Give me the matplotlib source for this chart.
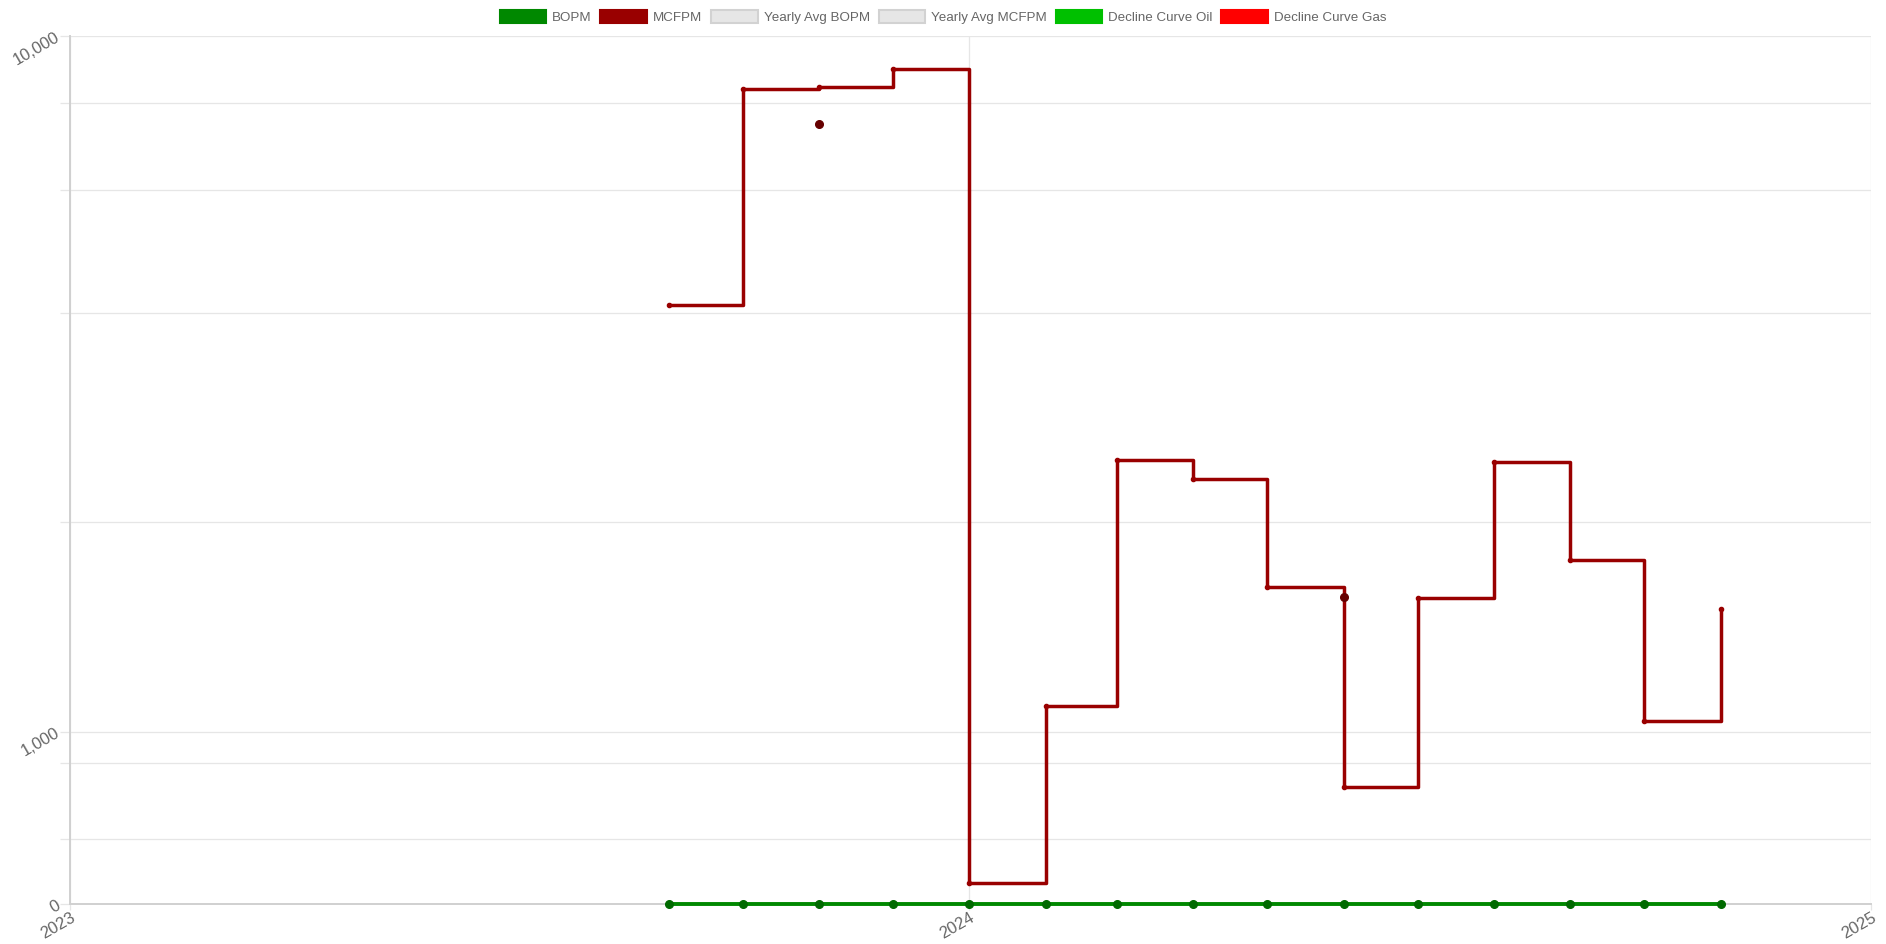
import matplotlib

matplotlib.use("Agg")
import matplotlib.pyplot as plt
import matplotlib.dates as mdates
import numpy as np
import pandas as pd
from matplotlib.patches import Patch
from matplotlib.ticker import FixedLocator, FixedFormatter, NullFormatter

plt.rcParams["font.family"] = ["Liberation Sans", "DejaVu Sans"]

# monthly production, Sep 2023 .. Nov 2024
months = pd.date_range("2023-09-01", "2024-11-01", freq="MS")
bopm = [0, 0, 0, 0, 0, 0, 0, 0, 0, 0, 0, 0, 0, 0, 0]
mcfpm = [4110, 8380, 8455, 8965, 605, 1087, 2460, 2308, 1613, 832,
         1556, 2440, 1767, 1037, 1501]

# yearly averages (one point per year)
avg_dates = pd.to_datetime(["2023-11-01", "2024-06-01"])
avg_mcfpm = [7470, 1560]

legend_labels = ["BOPM", "MCFPM", "Yearly Avg BOPM", "Yearly Avg MCFPM",
                 "Decline Curve Oil", "Decline Curve Gas"]
legend_faces = ["#008800", "#990000", "#e6e6e6", "#e6e6e6", "#00c000", "#ff0000"]
legend_edges = ["#008800", "#990000", "#d2d2d2", "#d2d2d2", "#00c000", "#ff0000"]

Y_FLOOR = 565  # log axis floor, labelled "0"
Y_TOP = 10000
GRID = "#e6e6e6"
TXT = "#666666"

fig = plt.figure(figsize=(18.86, 9.44), dpi=100)
ax = fig.add_axes([70 / 1886, 40 / 944, 1801 / 1886, 868 / 944])
ax.set_yscale("log")
ax.set_ylim(Y_FLOOR, Y_TOP)
ax.set_xlim(pd.Timestamp("2023-01-01"), pd.Timestamp("2025-01-01"))

# gas: stepped line
ax.plot(months, mcfpm, drawstyle="steps-post", color="#990000", lw=2.5,
        zorder=3)
ax.plot(months, mcfpm, ls="none", marker="o", ms=3, color="#990000", zorder=3)

# oil: zero values sit on the floor
ax.plot(months, np.maximum(np.array(bopm, dtype=float), Y_FLOOR),
        color="#008800", lw=2.8, marker="o", ms=5.5, mfc="#006a00",
        mec="#006a00", clip_on=False, zorder=4)

ax.plot(avg_dates, avg_mcfpm, ls="none", marker="o", ms=5.5,
        color="#660000", zorder=5)

# axes styling
ax.yaxis.set_major_locator(FixedLocator([Y_FLOOR, 1000, 10000]))
ax.yaxis.set_major_formatter(FixedFormatter(["0", "1,000", "10,000"]))
ax.yaxis.set_minor_locator(FixedLocator([700, 900, 2000, 4000, 6000, 8000]))
ax.yaxis.set_minor_formatter(NullFormatter())
ax.xaxis.set_major_locator(mdates.YearLocator())
ax.xaxis.set_major_formatter(mdates.DateFormatter("%Y"))
ax.xaxis.set_minor_locator(FixedLocator([]))

ax.grid(True, which="both", color=GRID, lw=0.9)
ax.set_axisbelow(True)
for s in ("top", "right"):
    ax.spines[s].set_visible(False)
for s in ("left", "bottom"):
    ax.spines[s].set_color("#d0d0d0")
    ax.spines[s].set_linewidth(1.4)

ax.tick_params(axis="y", which="both", length=7, width=0.9, color=GRID,
               labelcolor=TXT, labelsize=12, pad=1)
ax.tick_params(axis="x", which="both", length=4, width=0.9, color=GRID,
               labelcolor=TXT, labelsize=12, pad=0.5)
for lab in ax.get_yticklabels():
    lab.set_rotation(30)
    lab.set_rotation_mode("anchor")
    lab.set_ha("right")
    lab.set_va("center")
for lab in ax.get_xticklabels():
    lab.set_rotation(30)
    lab.set_rotation_mode("anchor")
    lab.set_ha("right")
    lab.set_va("top")

handles = [Patch(facecolor=f, edgecolor=e, lw=1.5)
           for f, e in zip(legend_faces, legend_edges)]
leg = fig.legend(handles, legend_labels, loc="center",
                 bbox_to_anchor=(0.5, 0.982), ncol=6, frameon=False,
                 fontsize=9.6, handlelength=3.5, handleheight=1.15,
                 handletextpad=0.45, columnspacing=0.65)
for t in leg.get_texts():
    t.set_color(TXT)

fig.savefig("out.png", dpi=100, facecolor="white")
